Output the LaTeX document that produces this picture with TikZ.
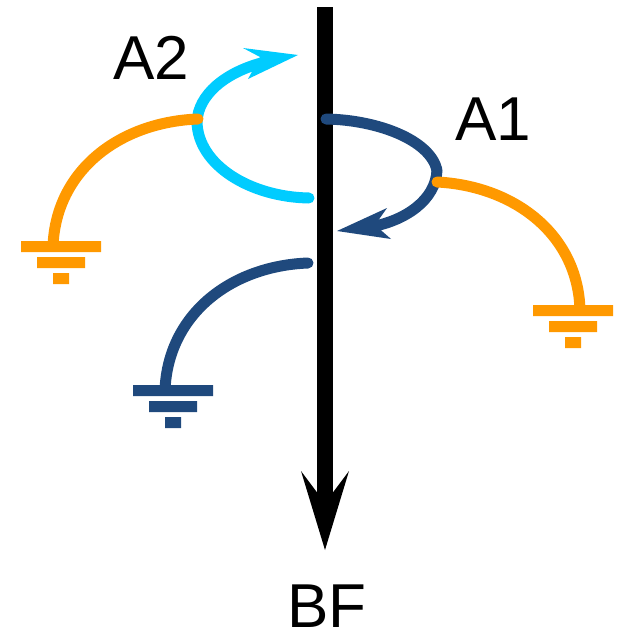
\documentclass[tikz,border=0pt]{standalone}
\usepackage{fontspec}
\setmainfont{Liberation Sans}
\definecolor{navyc}{HTML}{1F497D}
\definecolor{cyanc}{HTML}{00CCFF}
\definecolor{orangec}{HTML}{FF9900}
\tikzset{
  wire/.style={line width=11pt,line cap=round},
  label/.style={font=\fontsize{62}{62}\selectfont,inner sep=0pt,text=black,anchor=base},
}
\begin{document}
\begin{tikzpicture}[x=1pt,y=-1pt]
\useasboundingbox (0,0) rectangle (620,632);
% main bar
\fill[black] (317,7) rectangle (333,510);
\fill[black] (325,550) -- (301,471) -- (325,503) -- (349,471) -- cycle;
% navy A1
\draw[wire,navyc] (326,119) .. controls (378,120) and (430,140) .. (437,170);
\draw[wire,navyc] (437,170) .. controls (436,200) and (405,221) .. (370,227);
\fill[navyc] (337,231) -- (387,208) -- (375,225) -- (391,239) -- cycle;
% cyan A2
\draw[wire,cyanc] (309,198) .. controls (250,197) and (198,165) .. (197,122) .. controls (198,95) and (225,72) .. (265,62);
\fill[cyanc] (298,55) -- (243,48) -- (260,57) -- (248,79) -- cycle;
% orange left
\draw[wire,orangec] (198,119) .. controls (120,122) and (56,170) .. (53,246);
\fill[orangec] (21,241) rectangle (101,252) (37,257) rectangle (85,268) (53,273) rectangle (69,284);
% orange right
\draw[wire,orangec] (437,182) .. controls (515,186) and (578,235) .. (580,310);
\fill[orangec] (533,305) rectangle (613,316) (549,321) rectangle (597,332) (565,337) rectangle (581,348);
% navy ground
\draw[wire,navyc] (308,263) .. controls (230,266) and (168,315) .. (165,390);
\fill[navyc] (133,385) rectangle (213,396) (149,401) rectangle (197,412) (165,417) rectangle (181,428);
\node[label] (a2) at (151,79) {A2};
\node[label] (a1) at (493,140) {A1};
\node[label] (bf) at (327,627) {BF};
\end{tikzpicture}
\end{document}
